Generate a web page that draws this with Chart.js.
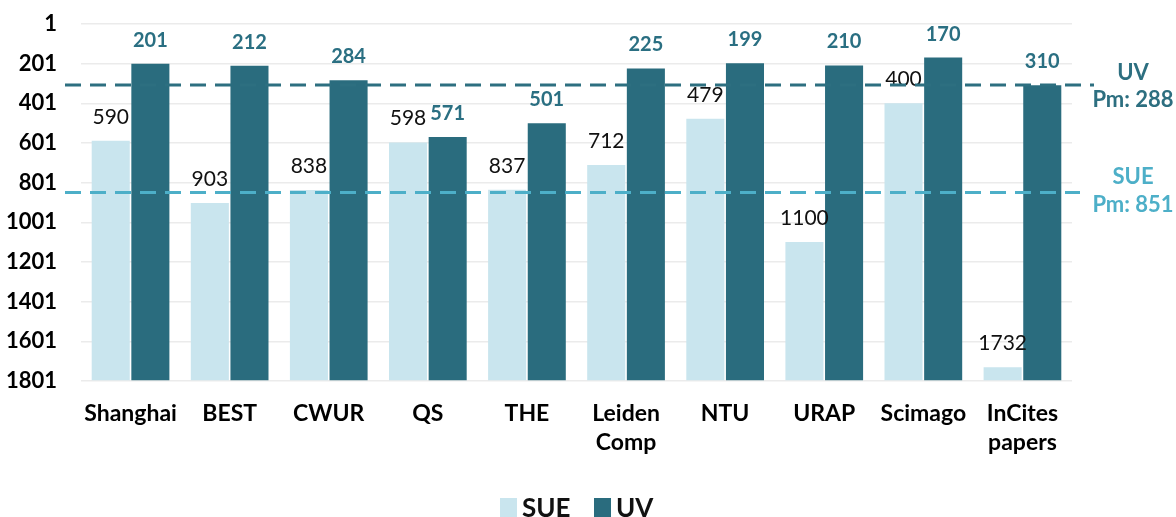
<!DOCTYPE html>
<html>
<head>
<meta charset="utf-8">
<script src="https://cdn.jsdelivr.net/npm/chart.js@4/dist/chart.umd.min.js"></script>
<style>
  html, body { margin: 0; padding: 0; background: #fff; }
  #wrap { width: 1176px; height: 517px; position: relative; }
</style>
</head>
<body>
<div id="wrap"><canvas id="chart"></canvas></div>
<script>
const categories = ['Shanghai', 'BEST', 'CWUR', 'QS', 'THE', ['Leiden', 'Comp'], 'NTU', 'URAP', 'Scimago', ['InCites', 'papers']];
const sueValues = [590, 903, 838, 598, 837, 712, 479, 1100, 400, 1732];
const uvValues = [201, 212, 284, 571, 501, 225, 199, 210, 170, 310];
const yTicks = [1, 201, 401, 601, 801, 1001, 1201, 1401, 1601, 1801];
const sueMean = 851;
const uvMean = 288;
// where the dashed lines sit on the axis in the picture
const sueMeanLine = 851;
const uvMeanLine = 308;

const FONT = 'Lato, "Open Sans", sans-serif';
const SUE_BAR = '#c9e5ee';
const SUE_LINE = '#4dafc8';
const UV_BAR = '#2a6c7e';
const UV_TEXT = '#2a6f82';

// value labels, mean lines, side notes and the legend
const overlay = {
    id: 'overlay',
    afterDatasetsDraw(chart) {
        const ctx = chart.ctx;
        const y = chart.scales.y;
        ctx.save();
        ctx.textAlign = 'center';
        ctx.textBaseline = 'alphabetic';
        chart.data.datasets.forEach((ds, i) => {
            const meta = chart.getDatasetMeta(i);
            ctx.font = (i === 0 ? '400 21px ' : '700 20px ') + FONT;
            ctx.fillStyle = i === 0 ? '#111' : UV_TEXT;
            meta.data.forEach((bar, j) => {
                ctx.fillText(String(ds.data[j]), bar.x, bar.y - 17);
            });
        });

        const drawMean = (value, color, x1, x2) => {
            const py = y.getPixelForValue(value);
            ctx.beginPath();
            ctx.setLineDash([16, 9]);
            ctx.lineWidth = 3;
            ctx.strokeStyle = color;
            ctx.moveTo(x1, py);
            ctx.lineTo(x2, py);
            ctx.stroke();
        };
        drawMean(uvMeanLine, '#2d6f80', 65, 1094);
        drawMean(sueMeanLine, SUE_LINE, 65, 1080);

        ctx.setLineDash([]);
        ctx.font = '700 22px ' + FONT;
        ctx.textBaseline = 'middle';
        ctx.fillStyle = '#2d6f80';
        ctx.fillText('UV', 1133, 73);
        ctx.fillText('Pm: ' + uvMean, 1133, 100);
        ctx.fillStyle = SUE_LINE;
        ctx.fillText('SUE', 1133, 177);
        ctx.fillText('Pm: ' + sueMean, 1133, 205);

        // legend
        ctx.textAlign = 'left';
        ctx.textBaseline = 'alphabetic';
        ctx.font = '700 26px ' + FONT;
        let lx = 500;
        chart.data.datasets.forEach((ds) => {
            ctx.fillStyle = ds.backgroundColor;
            ctx.fillRect(lx, 498, 17, 20);
            ctx.fillStyle = '#111';
            ctx.fillText(ds.label, lx + 22, 517);
            lx += 94;
        });
        ctx.restore();
    }
};

new Chart(document.getElementById('chart'), {
    type: 'bar',
    data: {
        labels: categories,
        datasets: [
            { label: 'SUE', data: sueValues, base: 1801, backgroundColor: SUE_BAR },
            { label: 'UV', data: uvValues, base: 1801, backgroundColor: UV_BAR }
        ]
    },
    options: {
        responsive: true,
        maintainAspectRatio: false,
        animation: false,
        layout: { padding: { top: 24, right: 104, left: 0, bottom: 0 } },
        datasets: { bar: { categoryPercentage: 0.8, barPercentage: 0.96 } },
        scales: {
            y: {
                reverse: true,
                min: 1,
                max: 1801,
                afterBuildTicks: (scale) => { scale.ticks = yTicks.map(v => ({ value: v })); },
                afterFit: (scale) => {
                    scale.width = 81;
                    scale.paddingTop = 0;
                    scale.paddingBottom = 0;
                },
                border: { display: false },
                grid: { color: '#ebebeb', lineWidth: 1.5, drawTicks: false },
                ticks: {
                    color: '#000',
                    padding: 24,
                    callback: (v) => String(v),
                    font: { family: FONT, size: 22, weight: '700' }
                }
            },
            x: {
                afterFit: (scale) => { scale.height = 136; },
                border: { display: false },
                grid: { display: false, drawTicks: false },
                ticks: {
                    color: '#000',
                    padding: 18,
                    maxRotation: 0,
                    autoSkip: false,
                    font: { family: FONT, size: 23, weight: '700', lineHeight: 1.26 }
                }
            }
        },
        plugins: {
            legend: { display: false },
            tooltip: { enabled: false }
        }
    },
    plugins: [overlay]
});
</script>
</body>
</html>
